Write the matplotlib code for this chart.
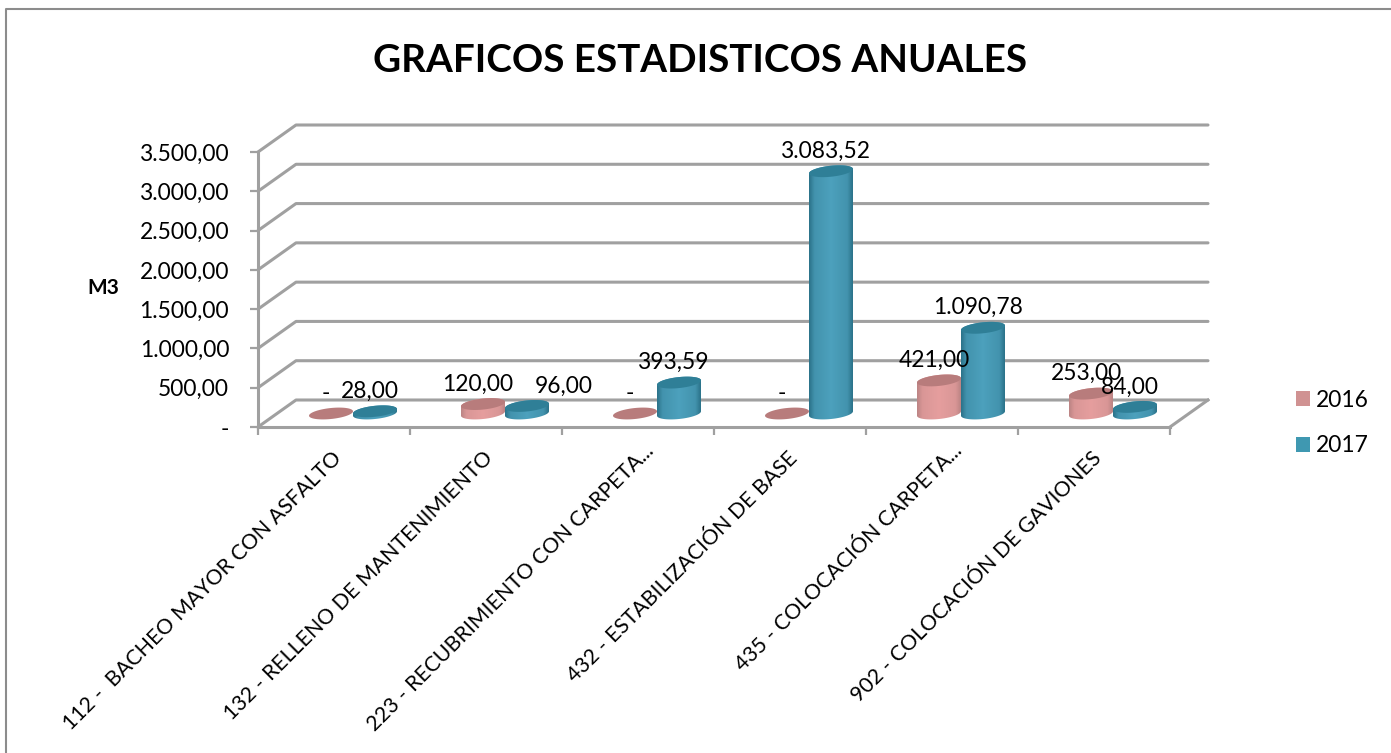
#!/usr/bin/env python3
# -*- coding: utf-8 -*-
import numpy as np
import matplotlib
matplotlib.use("Agg")
import matplotlib.pyplot as plt
from matplotlib.lines import Line2D
from matplotlib.patches import Patch, PathPatch, Polygon
from matplotlib.path import Path

categories = ["112 -  BACHEO MAYOR CON ASFALTO",
              "132 - RELLENO DE MANTENIMIENTO",
              "223 - RECUBRIMIENTO CON CARPETA...",
              "432 - ESTABILIZACIÓN DE BASE",
              "435 - COLOCACIÓN CARPETA...",
              "902 - COLOCACIÓN DE GAVIONES"]
serie_2016 = [0, 120.00, 0, 0, 421.00, 253.00]
serie_2017 = [28.00, 96.00, 393.59, 3083.52, 1090.78, 84.00]
y_ticks = [0, 500, 1000, 1500, 2000, 2500, 3000, 3500]

W, H = 1391, 753
GRAY = "#A0A0A0"
plt.rcParams["font.family"] = ["Lato", "DejaVu Sans"]

fig = plt.figure(figsize=(W/100, H/100), dpi=100)
# pixel box of the front plane
x0, x1, y0, y1 = 258, 1170, 427, 152
ax = fig.add_axes([x0/W, 1-y0/H, (x1-x0)/W, (y0-y1)/H])
ax.patch.set_visible(False)

# data units per pixel
ux = 6/(x1-x0)
uy = 3500/(y0-y1)
depth_x, depth_y = 38*ux, 27*uy

# hand nudges in pixels, the 96,00 label sits off its bar and the cut labels end further right
nudge_2017 = {1: 42}
nudge_cat = {2: (9, 7), 4: (13, 8)}


def fmt(v):
    if v == 0:
        return "-"
    s = f"{v:,.2f}"
    return s.replace(",", "#").replace(".", ",").replace("#", ".")


def ell(cx, cy, t, a=22.0, b=5.5, slope=0.10):
    # tilted ellipse, pixels around a data point
    px = a*np.cos(t)
    py = b*np.sin(t) + slope*a*np.cos(t)
    return np.column_stack([cx + px*ux, cy + py*uy])


def cylinder(cx, val, cols, top_col, z):
    base = 0.5*depth_y
    low = ell(cx, base, np.linspace(np.pi, 2*np.pi, 40))
    up = ell(cx, base+val, np.linspace(0, np.pi, 40))
    if val > 0:
        body = PathPatch(Path(np.vstack([low, up, low[:1]])), fc="none", ec="none", zorder=z)
        ax.add_patch(body)
        shade = np.interp(np.linspace(0, 1, 60), [0, 0.12, 0.5, 0.88, 1], [0, 0.7, 1, 0.7, 0])
        rgb = np.array(cols[0]) + shade[:, None]*(np.array(cols[1])-np.array(cols[0]))
        ext = [cx-22*ux, cx+22*ux, base-10*uy, base+val+10*uy]
        im = ax.imshow(rgb[None, :, :], extent=ext, aspect="auto", zorder=z, interpolation="bilinear")
        im.set_clip_path(body)
    ax.add_patch(Polygon(ell(cx, base+val, np.linspace(0, 2*np.pi, 60)), fc=top_col, ec="none", zorder=z+0.1))


# back wall and side wall
for v in y_ticks:
    ax.plot([0, depth_x, 6+depth_x], [v, v+depth_y, v+depth_y], color=GRAY, lw=2.2,
            clip_on=False, zorder=1, solid_capstyle="round", solid_joinstyle="round")
ax.plot([6, 6+depth_x], [0, depth_y], color=GRAY, lw=2.2, clip_on=False, zorder=1)

# bars
pink = ([0.74, 0.52, 0.52], [0.90, 0.62, 0.62])
teal = ([0.17, 0.45, 0.54], [0.30, 0.63, 0.74])
for i in range(len(categories)):
    cx = i + 0.5 + 0.5*depth_x
    c1, c2 = cx-22*ux, cx+22*ux
    cylinder(c1, serie_2016[i], pink, "#B87C7C", 3)
    cylinder(c2, serie_2017[i], teal, "#2F7F97", 4)
    for c, v, dx in ((c1, serie_2016[i], 0), (c2, serie_2017[i], nudge_2017.get(i, 0))):
        ax.annotate(fmt(v), (c, 0.5*depth_y+v), xytext=((dx-5)*0.72, 20*0.72), textcoords="offset points",
                    ha="center", va="center", fontsize=16.4, color="black", zorder=6, annotation_clip=False)
    nx, ny = nudge_cat.get(i, (0, 0))
    ax.annotate(categories[i], (i+0.5, 0), xytext=((4+nx)*0.72, (ny-28)*0.72), textcoords="offset points",
                ha="right", va="center", rotation=45, rotation_mode="anchor", fontsize=15.3,
                annotation_clip=False)

ax.set_xlim(0, 6)
ax.set_ylim(0, 3500)
ax.set_xticks(range(7))
ax.set_xticklabels([])
ax.set_yticks(y_ticks)
ax.set_yticklabels([fmt(v) for v in y_ticks], fontsize=16.4)
ax.tick_params(axis="both", color=GRAY, width=1.6, length=5.8)
ax.tick_params(axis="y", pad=15)
for s in ("top", "right"):
    ax.spines[s].set_visible(False)
for s in ("left", "bottom"):
    ax.spines[s].set_color(GRAY)
    ax.spines[s].set_linewidth(2.2)

fig.text(700/W, 1-60/H, "GRAFICOS ESTADISTICOS ANUALES", fontsize=27.8, fontweight="bold", ha="center", va="center")
fig.text(103/W, 1-288/H, "M3", fontsize=15, fontweight="bold", ha="center", va="center")

fig.legend(handles=[Patch(fc="#D09292", label="2016"), Patch(fc="#3F98B1", label="2017")],
           loc="center left", bbox_to_anchor=(1296/W, 1-423/H), frameon=False, fontsize=16.4,
           borderpad=0, borderaxespad=0, handlelength=0.62, handleheight=0.62, handletextpad=0.24,
           labelspacing=1.07)

# chart frame: only the top and left edges are inside the picture
fig.add_artist(Line2D([6/W, 6/W, 1], [0, 1-9/H, 1-9/H], transform=fig.transFigure, color="#8C8C8C", lw=1.5))
fig.savefig("out.png", dpi=100)
